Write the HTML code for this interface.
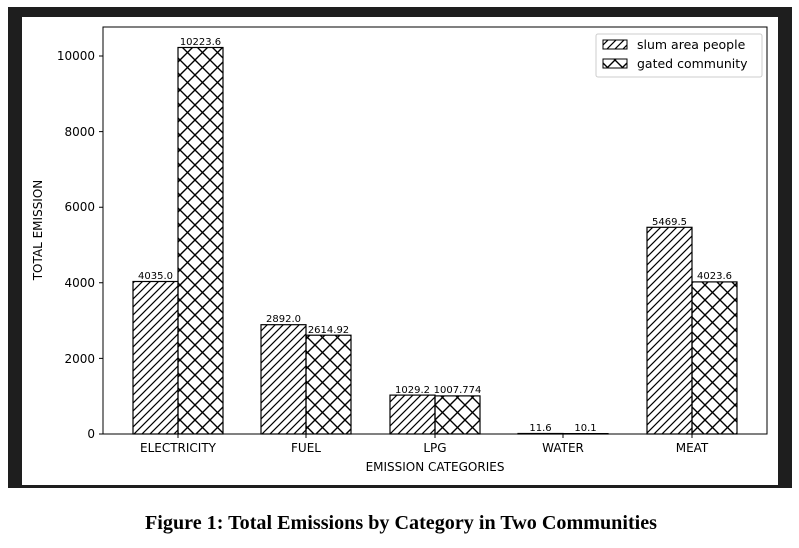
<!DOCTYPE html>
<html><head><style>body{margin:0;background:#fff}</style></head><body>
<svg width="799" height="543" xmlns="http://www.w3.org/2000/svg" font-family="DejaVu Sans, Liberation Sans, sans-serif">
<defs>
<pattern id="h1" patternUnits="userSpaceOnUse" width="8" height="8">
<path d="M-2,10 L10,-2 M-2,2 L2,-2 M6,10 L10,6" stroke="#000" stroke-width="1.2"/>
</pattern>
<pattern id="h2" patternUnits="userSpaceOnUse" width="15" height="15">
<path d="M0,0 L15,15 M15,0 L0,15" stroke="#000" stroke-width="1.4"/>
</pattern>
</defs>
<rect x="8" y="7" width="784" height="481" fill="#1e1e1e"/>
<rect x="22" y="17" width="756" height="468" fill="#fff"/>
<g stroke="#000" stroke-width="1.2">
<rect x="133" y="281.5" width="45" height="152.5" fill="url(#h1)"/>
<rect x="178" y="47.5" width="45" height="386.5" fill="url(#h2)"/>
<rect x="261" y="324.7" width="45" height="109.3" fill="url(#h1)"/>
<rect x="306" y="335.2" width="45" height="98.8" fill="url(#h2)"/>
<rect x="390" y="395.1" width="45" height="38.9" fill="url(#h1)"/>
<rect x="435" y="395.9" width="45" height="38.1" fill="url(#h2)"/>
<rect x="518" y="433.5" width="45" height="0.5" fill="#fff"/>
<rect x="563" y="433.6" width="45" height="0.4" fill="#fff"/>
<rect x="647" y="227.3" width="45" height="206.7" fill="url(#h1)"/>
<rect x="692" y="281.9" width="45" height="152.1" fill="url(#h2)"/>
</g>
<rect x="103" y="27" width="664" height="407" fill="none" stroke="#000" stroke-width="1"/>
<g font-size="10" text-anchor="middle" fill="#000">
<text x="155.5" y="279">4035.0</text><text x="200.5" y="45">10223.6</text>
<text x="283.5" y="322">2892.0</text><text x="328.5" y="333">2614.92</text>
<text x="412.5" y="393">1029.2</text><text x="457.5" y="393">1007.774</text>
<text x="540.5" y="431">11.6</text><text x="585.5" y="431">10.1</text>
<text x="669.5" y="225">5469.5</text><text x="714.5" y="279">4023.6</text>
</g>
<g font-size="12" fill="#000" stroke="#000">
<g text-anchor="end" stroke="none">
<text x="95" y="438">0</text><text x="95" y="363">2000</text><text x="95" y="287">4000</text>
<text x="95" y="211">6000</text><text x="95" y="136">8000</text><text x="95" y="60">10000</text>
</g>
<path d="M99,434H103M99,358.4H103M99,282.8H103M99,207.2H103M99,131.6H103M99,56H103M178,434V438M306,434V438M435,434V438M563,434V438M692,434V438"/>
<g text-anchor="middle" stroke="none">
<text x="178" y="452">ELECTRICITY</text><text x="306" y="452">FUEL</text><text x="435" y="452">LPG</text>
<text x="563" y="452">WATER</text><text x="692" y="452">MEAT</text>
<text x="435" y="471">EMISSION CATEGORIES</text>
<text transform="translate(42,230) rotate(-90)">TOTAL EMISSION</text>
</g>
</g>
<rect x="596" y="34" width="166" height="43" rx="2" fill="#fff" stroke="#ccc"/>
<rect x="603" y="40" width="24" height="9" fill="url(#h1)" stroke="#000"/>
<rect x="603" y="59" width="24" height="9" fill="url(#h2)" stroke="#000"/>
<g font-size="12.5"><text x="637" y="49">slum area people</text><text x="637" y="68">gated community</text></g>
<text x="401" y="529" font-family="Liberation Serif, serif" font-weight="bold" font-size="19.5" text-anchor="middle" textLength="512" lengthAdjust="spacingAndGlyphs">Figure 1: Total Emissions by Category in Two Communities</text>
</svg>
</body></html>
